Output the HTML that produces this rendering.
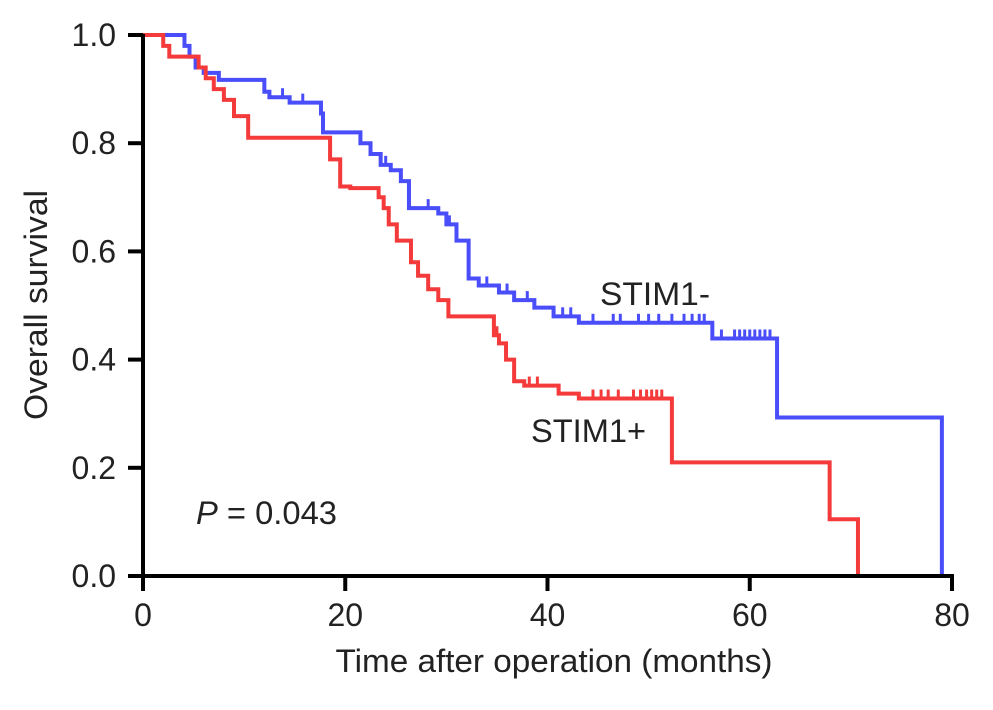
<!DOCTYPE html>
<html><head><meta charset="utf-8"><style>
html,body{margin:0;padding:0;background:#fff;}
svg{display:block;font-family:"Liberation Sans",Arial,sans-serif;}
</style></head><body>
<svg id="chart" width="993" height="710" viewBox="0 0 993 710" style="position:absolute;left:0;top:0">
<g id="curves"></g>
<g id="axes"></g>
<text x="554" y="672" text-anchor="middle" font-size="32" fill="#222" textLength="437" lengthAdjust="spacingAndGlyphs">Time after operation (months)</text>
<text transform="translate(47,305) rotate(-90)" text-anchor="middle" font-size="32" fill="#222" textLength="230" lengthAdjust="spacingAndGlyphs">Overall survival</text>
<text x="600" y="305" font-size="32" fill="#222" textLength="110" lengthAdjust="spacingAndGlyphs">STIM1-</text>
<text x="531" y="442" font-size="32" fill="#222" textLength="115" lengthAdjust="spacingAndGlyphs">STIM1+</text>
<text x="196" y="524" font-size="32" fill="#222" textLength="141" lengthAdjust="spacingAndGlyphs"><tspan font-style="italic">P</tspan> = 0.043</text>
</svg>
<script>
const xTicks=[0,20,40,60,80];
const yTicks=[0,0.2,0.4,0.6,0.8,1.0];
const yTickLabels=["0.0","0.2","0.4","0.6","0.8","1.0"];
const negTimes=[0,4.1,4.6,5.2,6.0,7.5,12.0,12.5,14.5,17.6,17.8,21.5,22.5,23.5,24.5,25.5,26.3,29.2,30.0,31.0,32.2,33.2,35.2,36.7,38.7,40.6,43.1,56.3,62.7,79.0];
const negSurv=[1.0,0.98,0.96,0.94,0.93,0.917,0.895,0.885,0.875,0.855,0.82,0.80,0.78,0.76,0.75,0.73,0.68,0.67,0.65,0.62,0.55,0.537,0.524,0.51,0.496,0.48,0.468,0.439,0.293,0.0];
const posTimes=[0,2.0,2.6,5.0,5.5,6.2,7.0,8.0,9.0,10.4,17.3,18.5,19.5,20.5,23.3,23.8,24.3,25.1,26.5,27.2,28.2,29.2,30.2,33.9,34.7,35.2,35.9,36.7,37.7,41.1,43.1,52.3,67.9,70.7];
const posSurv=[1.0,0.98,0.96,0.96,0.94,0.92,0.90,0.88,0.85,0.81,0.81,0.77,0.72,0.717,0.70,0.68,0.65,0.62,0.58,0.555,0.53,0.51,0.48,0.48,0.445,0.43,0.40,0.36,0.352,0.337,0.328,0.21,0.105,0.0];
const negCensor=[13.8,15.8,24.0,28.2,30.3,34.0,36.0,38.0,41.5,42.3,44.5,46.5,47.2,49.0,50.0,51.0,52.3,53.5,54.3,55.0,55.5,57.2,58.5,59.0,59.5,60.0,60.5,61.0,61.5,62.0];
const posCensor=[35.0,38.2,39.0,44.5,45.3,46.0,47.0,48.5,49.2,49.8,50.3,50.8,51.3];
const X0=143,X1=952,Y0=576,Y1=35;
const sx=t=>X0+(X1-X0)*t/80;
const sy=s=>Y0-(Y0-Y1)*s;
const NS="http://www.w3.org/2000/svg";
function mk(tag,attrs,parent){const e=document.createElementNS(NS,tag);for(const k in attrs)e.setAttribute(k,attrs[k]);parent.appendChild(e);return e;}
function survAt(ts,ss,t){let v=ss[0];for(let i=0;i<ts.length;i++){if(ts[i]<=t)v=ss[i];}return v;}
const curves=document.getElementById('curves');
function drawCurve(ts,ss,cens,color,name){
  let d=`M${sx(ts[0])},${sy(ss[0])}`;
  for(let i=1;i<ts.length;i++){d+=` H${sx(ts[i])} V${sy(ss[i])}`;}
  const p=mk('path',{d:d,fill:'none',stroke:color,'stroke-width':4},curves);
  
  
  cens.forEach(t=>{
    const y=sy(survAt(ts,ss,t));
    const l=mk('line',{x1:sx(t),x2:sx(t),y1:y,y2:y-9,stroke:color,'stroke-width':3},curves);
    
    
  });
}
drawCurve(negTimes,negSurv,negCensor,'#4a4dfa','stim1-negative');
drawCurve(posTimes,posSurv,posCensor,'#f43a3a','stim1-positive');
const ax=document.getElementById('axes');
let a=mk('line',{x1:X0,x2:X0,y1:Y1-1,y2:Y0+2,stroke:'#000','stroke-width':4},ax);

a=mk('line',{x1:X0-2,x2:X1+2,y1:Y0,y2:Y0,stroke:'#000','stroke-width':4},ax);

xTicks.forEach(v=>{
  const t=mk('line',{x1:sx(v),x2:sx(v),y1:Y0,y2:Y0+15,stroke:'#000','stroke-width':4},ax);
  
  const l=mk('text',{x:sx(v),y:626,'text-anchor':'middle','font-size':32,fill:'#222'},ax);
  l.textContent=v;
  
});
yTicks.forEach((v,i)=>{
  const t=mk('line',{x1:X0-15,x2:X0,y1:sy(v),y2:sy(v),stroke:'#000','stroke-width':4},ax);
  
  const l=mk('text',{x:116,y:sy(v)+11,'text-anchor':'end','font-size':32,fill:'#222'},ax);
  l.textContent=yTickLabels[i];
  
});
</script>
</body></html>
